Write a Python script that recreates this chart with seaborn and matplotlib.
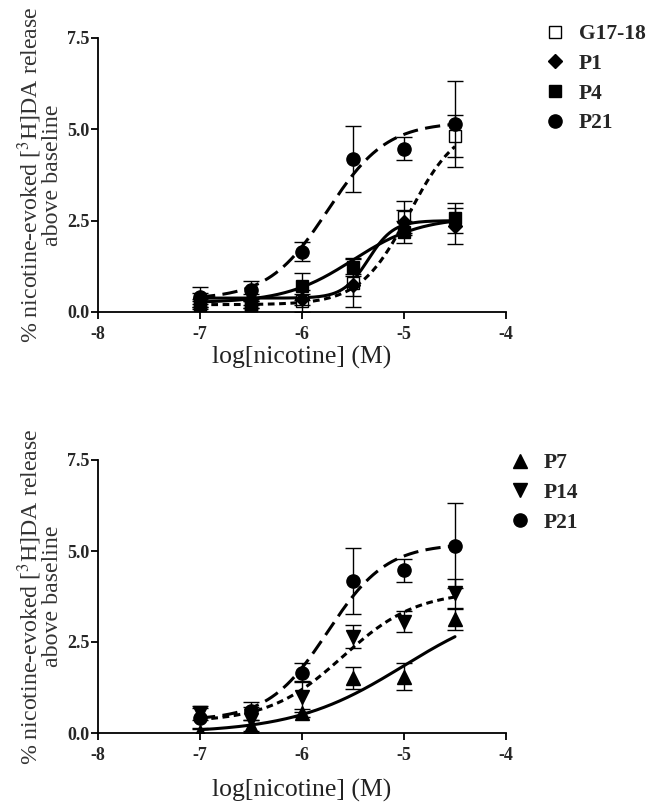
import numpy as np
import pandas as pd
import matplotlib
matplotlib.use("Agg")
import matplotlib.pyplot as plt
import seaborn as sns
from matplotlib.lines import Line2D

sns.set_style("ticks")
plt.rcParams['font.family'] = ['Liberation Serif', 'DejaVu Serif']
plt.rcParams['mathtext.fontset'] = 'stix'

# ---------------- data ----------------
log_conc = [-7.0, -6.5, -6.0, -5.5, -5.0, -4.5]

# top panel
g1718_mean = [0.25, 0.20, 0.30, 0.80, 2.60, 4.82]
g1718_err  = [0.10, 0.10, 0.30, 0.65, 0.45, 0.57]
p1_mean    = [0.38, 0.35, 0.35, 0.75, 2.45, 2.36]
p1_err     = [0.15, 0.15, 0.15, 0.30, 0.35, 0.50]
p4_mean    = [0.19, 0.20, 0.70, 1.24, 2.20, 2.57]
p4_err     = [0.10, 0.10, 0.38, 0.25, 0.30, 0.40]
p21_mean   = [0.41, 0.60, 1.65, 4.18, 4.47, 5.15]
p21_err    = [0.28, 0.24, 0.26, 0.90, 0.31, 1.18]

# bottom panel
p7_mean    = [0.03, 0.20, 0.55, 1.50, 1.55, 3.12]
p7_err     = [0.08, 0.15, 0.10, 0.30, 0.38, 0.30]
p14_mean   = [0.55, 0.36, 1.00, 2.65, 3.06, 3.84]
p14_err    = [0.20, 0.36, 0.42, 0.32, 0.28, 0.40]

# fitted sigmoid parameters: bottom, top, logEC50, hill
fit_g1718 = [0.20, 5.20, -4.95, 1.8]
fit_p1    = [0.38, 2.50, -5.35, 3.5]
fit_p4    = [0.25, 2.60, -5.50, 1.3]
fit_p21   = [0.35, 5.20, -5.75, 1.5]
fit_p7    = [0.00, 3.70, -5.00, 0.8]
fit_p14   = [0.30, 3.90, -5.60, 1.2]

x_ticks = [-8, -7, -6, -5, -4]
y_ticks = [0.0, 2.5, 5.0, 7.5]
x_label = "log[nicotine] (M)"
y_label = "% nicotine-evoked [$^{3}$H]DA release\nabove baseline"


def curve_df(params, name):
    b, t, ec, h = params
    xs = np.linspace(log_conc[0], log_conc[-1], 200)
    ys = b + (t - b) / (1 + 10 ** (h * (ec - xs)))
    return pd.DataFrame({"x": xs, "y": ys, "series": name})


fig = plt.figure(figsize=(6.66, 8.07), dpi=100)
ax1 = fig.add_axes([98/666, 1-312/807, 408/666, 274/807])
ax2 = fig.add_axes([98/666, 1-733/807, 408/666, 273/807])

LW = 2.2
long_dash = (0, (5, 2.4))
short_dash = (0, (2.2, 1.5))
MS = 9.5

def draw_series(ax, mean, err, fit, name, marker, ls, mfc='black', z=3, ms=MS):
    df = curve_df(fit, name)
    sns.lineplot(data=df, x="x", y="y", ax=ax, color='black', lw=LW,
                 linestyle=ls, legend=False, zorder=z)
    ax.errorbar(log_conc, mean, yerr=err, fmt=marker, color='black',
                mfc=mfc, mec='black', ms=ms, mew=1.0, ecolor='black',
                elinewidth=1.0, capsize=6, capthick=1.0, zorder=z + 1)

# top panel
draw_series(ax1, g1718_mean, g1718_err, fit_g1718, "G17-18", 's', short_dash, mfc='white', z=3, ms=9)
draw_series(ax1, p1_mean, p1_err, fit_p1, "P1", 'D', '-', z=4, ms=7.5)
draw_series(ax1, p4_mean, p4_err, fit_p4, "P4", 's', '-', z=5, ms=9)
draw_series(ax1, p21_mean, p21_err, fit_p21, "P21", 'o', long_dash, z=6)

# bottom panel
draw_series(ax2, p7_mean, p7_err, fit_p7, "P7", '^', '-', z=3)
draw_series(ax2, p14_mean, p14_err, fit_p14, "P14", 'v', short_dash, z=4)
draw_series(ax2, p21_mean, p21_err, fit_p21, "P21", 'o', long_dash, z=5)

for ax, pad in ((ax1, 2), (ax2, 11)):
    ax.set_xlim(-8, -4)
    ax.set_ylim(0, 7.5)
    ax.set_xticks(x_ticks)
    ax.set_yticks(y_ticks)
    ax.set_xticklabels([str(v) for v in x_ticks], fontweight='bold', fontsize=13)
    ax.set_yticklabels([f"{v:.1f}" for v in y_ticks], fontweight='bold', fontsize=13)
    ax.tick_params(axis='x', direction='out', length=5, width=1.3, color='black', pad=5)
    ax.tick_params(axis='y', direction='out', length=5, width=1.3, color='black', pad=1)
    for s in ('top', 'right'):
        ax.spines[s].set_visible(False)
    for s in ('left', 'bottom'):
        ax.spines[s].set_linewidth(1.3)
        ax.spines[s].set_color('black')
    ax.set_xlabel(x_label, fontsize=18.5, labelpad=pad, color='#222222')
    ax.set_ylabel(y_label, fontsize=17.2, color='#333333', linespacing=0.9, labelpad=3)
    ax.set_facecolor('white')

def make_legend(ax, items, anchor):
    handles = [Line2D([], [], marker=m, ls='none', color='black', mfc=fc,
                      mec='black', ms=ms, mew=1.0) for m, fc, _, ms in items]
    labels = [lab for _, _, lab, _ in items]
    leg = ax.legend(handles, labels, loc='upper left', bbox_to_anchor=anchor,
                    bbox_transform=fig.transFigure, frameon=False,
                    prop={'family': 'Liberation Serif', 'weight': 'bold', 'size': 15.5},
                    handletextpad=0.5, labelspacing=0.45, handlelength=1.2,
                    borderpad=0, borderaxespad=0)
    return leg

make_legend(ax1, [('s', 'white', 'G17-18', 9), ('D', 'black', 'P1', 7.5),
                  ('s', 'black', 'P4', 9), ('o', 'black', 'P21', 9.5)],
            (542/666, 1-24/807))
make_legend(ax2, [('^', 'black', 'P7', 9.5), ('v', 'black', 'P14', 9.5),
                  ('o', 'black', 'P21', 9.5)],
            (507/666, 1-453/807))

fig.savefig("out.png", dpi=100, facecolor='white')
